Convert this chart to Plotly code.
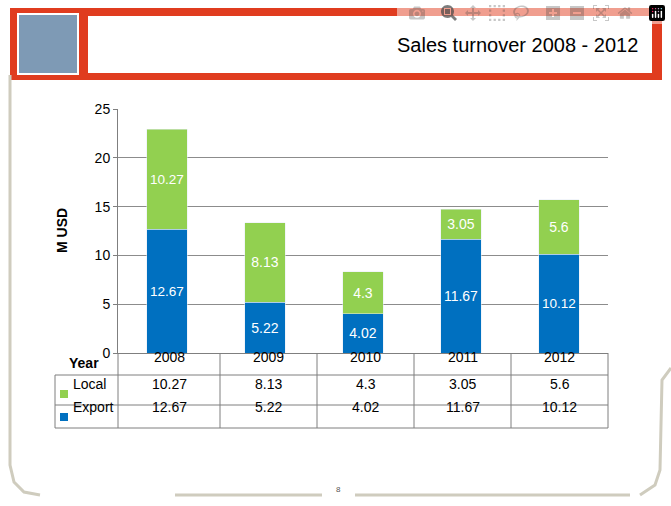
import plotly.graph_objects as go

years = ["2008", "2009", "2010", "2011", "2012"]
local = [10.27, 8.13, 4.3, 3.05, 5.6]
export = [12.67, 5.22, 4.02, 11.67, 10.12]

W, H = 671, 506
L, R, T, B = 118, 608, 109, 353


def px(x):
    return (x - L) / (R - L)


def py(y):
    return (B - y) / (B - T)


fig = go.Figure()
fig.add_bar(x=years, y=export, name="Export", marker_color="#0070C0",
            text=[str(v) for v in export], textposition="inside", textangle=0,
            insidetextanchor="middle", textfont=dict(color="white", size=14))
fig.add_bar(x=years, y=local, name="Local", marker_color="#92D050",
            text=[str(v) for v in local], textposition="inside", textangle=0,
            insidetextanchor="middle", textfont=dict(color="white", size=14))

shapes = []
ann = []
font = dict(family="Liberation Sans, Arial", size=14, color="black")

# banner
shapes.append(dict(type="rect", xref="paper", yref="paper", x0=px(10), x1=px(662),
                   y0=py(80), y1=py(8), fillcolor="#E03C1F", line_width=0, layer="below"))
shapes.append(dict(type="rect", xref="paper", yref="paper", x0=px(88), x1=px(652),
                   y0=py(73), y1=py(16), fillcolor="white", line_width=0, layer="below"))
shapes.append(dict(type="rect", xref="paper", yref="paper", x0=px(18), x1=px(78),
                   y0=py(74), y1=py(14), fillcolor="#7E9AB5", line=dict(color="white", width=2),
                   layer="below"))
ann.append(dict(text="Sales turnover 2008 - 2012", xref="paper", yref="paper", x=px(640), y=py(45),
                xanchor="right", yanchor="middle", showarrow=False,
                font=dict(family="Liberation Sans, Arial", size=20, color="black")))

# slide frame
frame = "#CFCCBE"
def path(pts):
    return "M " + " L ".join(f"{px(a)},{py(b)}" for a, b in pts)
shapes.append(dict(type="path", xref="paper", yref="paper",
                   path=path([(10, 75), (10, 465), (14, 482), (24, 492), (40, 495)]),
                   line=dict(color=frame, width=3)))
shapes.append(dict(type="line", xref="paper", yref="paper", x0=px(175), x1=px(322),
                   y0=py(495), y1=py(495), line=dict(color=frame, width=3)))
shapes.append(dict(type="line", xref="paper", yref="paper", x0=px(355), x1=px(630),
                   y0=py(495), y1=py(495), line=dict(color=frame, width=3)))
shapes.append(dict(type="path", xref="paper", yref="paper",
                   path=path([(671, 368), (662, 380), (660, 470), (655, 485), (640, 495)]),
                   line=dict(color=frame, width=3)))
ann.append(dict(text="8", xref="paper", yref="paper", x=px(338), y=py(496), showarrow=False,
                xanchor="center", font=dict(family="Liberation Sans, Arial", size=8, color="#555")))

# data table
rows = [353, 375, 405, 428]
cols = [55, 118, 220, 317, 414, 511, 608]
gc = "#7F7F7F"
for r in rows[1:]:
    shapes.append(dict(type="line", xref="paper", yref="paper", x0=px(55), x1=px(608),
                       y0=py(r), y1=py(r), line=dict(color=gc, width=1)))
shapes.append(dict(type="line", xref="paper", yref="paper", x0=px(55), x1=px(55),
                   y0=py(375), y1=py(428), line=dict(color=gc, width=1)))
for c in cols[1:]:
    shapes.append(dict(type="line", xref="paper", yref="paper", x0=px(c), x1=px(c),
                       y0=py(353), y1=py(428), line=dict(color=gc, width=1)))
ann.append(dict(text="<b>Year</b>", xref="paper", yref="paper", x=px(67), y=py(373), showarrow=False,
                xanchor="left", font=font))
for lab, vals, colr, yc in [("Local", local, "#92D050", 394),
                            ("Export", export, "#0070C0", 417)]:
    shapes.append(dict(type="rect", xref="paper", yref="paper", x0=px(60), x1=px(68),
                       y0=py(yc + 4), y1=py(yc - 4), fillcolor=colr, line_width=0))
    ann.append(dict(text=lab, xref="paper", yref="paper", x=px(71), y=py(yc), showarrow=False,
                    xanchor="left", font=font))
    for j, v in enumerate(vals):
        ann.append(dict(text=str(v), xref="paper", yref="paper", x=px((cols[j + 1] + cols[j + 2]) / 2),
                        y=py(yc), showarrow=False, xanchor="center", font=font))
for j, yr in enumerate(years):
    ann.append(dict(text=yr, xref="paper", yref="paper", x=px((cols[j + 1] + cols[j + 2]) / 2),
                    y=py(367), showarrow=False, xanchor="center", font=font))
ann.append(dict(text="<b>M USD</b>", xref="paper", yref="paper", x=px(62), y=py(231), showarrow=False,
                xanchor="center", textangle=-90, font=font))

fig.update_layout(
    width=W, height=H, barmode="stack", bargap=0.59, showlegend=False,
    margin=dict(l=L, r=W - R, t=T, b=H - B),
    plot_bgcolor="white", paper_bgcolor="white",
    font=font, shapes=shapes, annotations=ann,
    xaxis=dict(showticklabels=False, showline=True, linecolor=gc, ticks=""),
    yaxis=dict(range=[0, 25], dtick=5, showgrid=True, gridcolor="#8C8C8C",
               showline=True, linecolor=gc, ticks="outside", ticklen=4, tickcolor=gc,
               zeroline=False),
)
fig.write_html("out.html", post_script="document.body.style.margin='0';")
